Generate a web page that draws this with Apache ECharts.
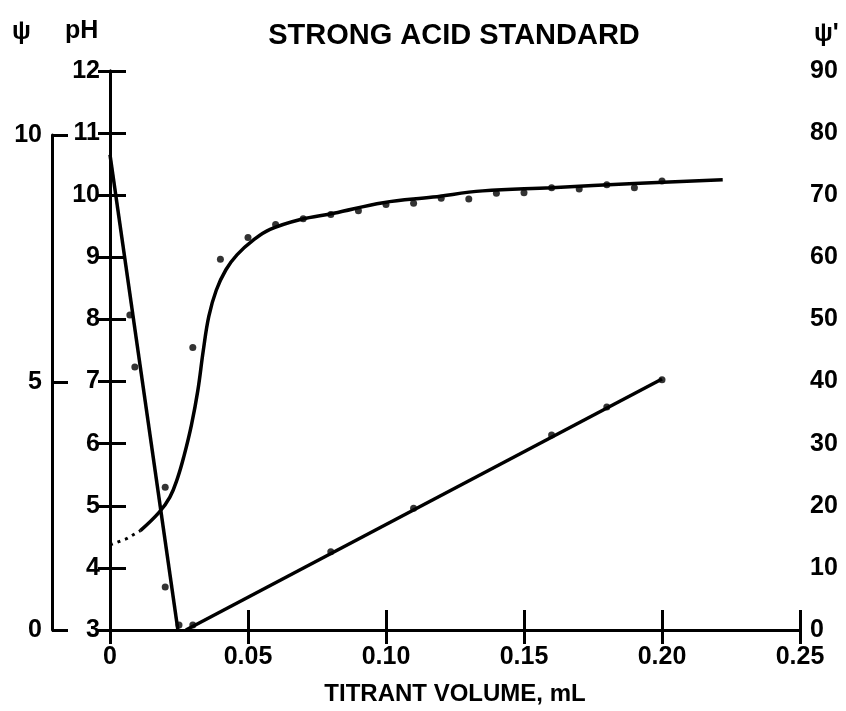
<!DOCTYPE html>
<html><head><meta charset="utf-8">
<script src="https://cdn.jsdelivr.net/npm/echarts@6/dist/echarts.min.js"></script>
<style>html,body{margin:0;padding:0;background:#fff}#c{width:846px;height:711px}</style>
</head><body><div id="c"></div>
<script>
// ---- data ----
const xTicks = [0, 0.05, 0.10, 0.15, 0.20, 0.25];
const xTickLabels = ['0', '0.05', '0.10', '0.15', '0.20', '0.25'];
// pH titration curve (fitted), dotted start then solid
const phCurveDotted = [[0, 4.37], [0.006, 4.47], [0.011, 4.6]];
const phCurve = [[0.011, 4.6], [0.0177, 4.89], [0.0217, 5.14], [0.0245, 5.45], [0.0268, 5.8], [0.0295, 6.3], [0.0318, 6.85], [0.0338, 7.5], [0.0358, 8.05], [0.0385, 8.47], [0.042, 8.8], [0.046, 9.04], [0.052, 9.28], [0.058, 9.45], [0.069, 9.61], [0.081, 9.71], [0.099, 9.88], [0.117, 9.97], [0.135, 10.07], [0.16, 10.12], [0.19, 10.19], [0.222, 10.25]];
// measured pH points
const phPoints = [[0.02, 5.3], [0.03, 7.55], [0.04, 8.97], [0.05, 9.32], [0.06, 9.53], [0.07, 9.62], [0.08, 9.69], [0.09, 9.75], [0.10, 9.85], [0.11, 9.87], [0.12, 9.95], [0.13, 9.94], [0.14, 10.03], [0.15, 10.04], [0.16, 10.12], [0.17, 10.1], [0.18, 10.17], [0.19, 10.12], [0.20, 10.23]];
// Gran function psi (before equivalence)
const psiLine = [[0, 9.6], [0.0246, 0]];
const psiPoints = [[0.0072, 6.36], [0.009, 5.31], [0.02, 0.87], [0.025, 0.1]];
// Gran function psi' (after equivalence)
const psiPrimeLine = [[0.0275, 0], [0.20, 40.4]];
const psiPrimePoints = [[0.03, 0.8], [0.08, 12.6], [0.11, 19.6], [0.16, 31.4], [0.18, 35.9], [0.20, 40.3]];
const psiTicks = [0, 5, 10];

const FONT = '"Liberation Sans", Arial, sans-serif';
const AX = {color: '#000', width: 3};
const lbl = {color: '#000', fontFamily: FONT, fontSize: 25, fontWeight: 'bold'};

const chart = echarts.init(document.getElementById('c'), null, {renderer: 'canvas'});
chart.setOption({
  backgroundColor: '#fff',
  animation: false,
  title: {
    text: 'STRONG ACID STANDARD', left: 449, top: 16, textAlign: 'center',
    textStyle: {color: '#000', fontFamily: FONT, fontSize: 29, fontWeight: 'bold'}
  },
  graphic: [
    {type: 'text', left: 12, top: 20, style: {text: 'ψ', fill: '#000', font: 'bold 25px ' + FONT}},
    {type: 'text', left: 65, top: 19, style: {text: 'pH', fill: '#000', font: 'bold 25px ' + FONT}},
    {type: 'text', left: 814, top: 22, style: {text: "ψ'", fill: '#000', font: 'bold 25px ' + FONT}}
  ],
  grid: [
    {left: 110, right: 46, top: 71, bottom: 81},
    {left: 52, width: 20, top: 135, bottom: 81}
  ],
  xAxis: [
    {type: 'value', gridIndex: 0, min: 0, max: 0.25, interval: 0.05, position: 'bottom',
     axisLine: {lineStyle: AX}, axisTick: {inside: true, length: 20, lineStyle: AX},
     splitLine: {show: false},
     axisLabel: Object.assign({}, lbl, {margin: 15, formatter: v => {
       const i = xTicks.findIndex(t => Math.abs(t - v) < 1e-9); return i >= 0 ? xTickLabels[i] : '';}}),
     name: 'TITRANT VOLUME, mL', nameLocation: 'middle', nameGap: 52,
     nameTextStyle: {color: '#000', fontFamily: FONT, fontSize: 24, fontWeight: 'bold'}},
    {type: 'value', gridIndex: 0, min: 0, max: 0.25, interval: 0.05, position: 'top',
     axisLine: {lineStyle: AX}, axisTick: {inside: true, length: 14, lineStyle: AX},
     axisLabel: {show: false}, splitLine: {show: false}},
    {type: 'value', gridIndex: 1, min: 0, max: 1, show: false}
  ],
  yAxis: [
    {type: 'value', gridIndex: 0, min: 3, max: 12, interval: 1, position: 'left',
     axisLine: {show: true, lineStyle: AX}, axisTick: {show: true, inside: true, length: 16, lineStyle: AX},
     axisLabel: Object.assign({}, lbl, {margin: 10}), splitLine: {show: false}},
    {type: 'value', gridIndex: 0, min: 0, max: 90, interval: 10, position: 'right',
     axisLine: {show: true, lineStyle: AX}, axisTick: {show: true, inside: true, length: 12, lineStyle: AX},
     axisLabel: Object.assign({}, lbl, {margin: 10}), splitLine: {show: false}},
    {type: 'value', gridIndex: 0, min: 0, max: 11.29, show: false},
    {type: 'value', gridIndex: 1, min: 0, max: 10, interval: 5, position: 'left',
     axisLine: {show: true, lineStyle: AX}, axisTick: {show: true, inside: true, length: 16, lineStyle: AX},
     axisLabel: Object.assign({}, lbl, {margin: 10, formatter: v => psiTicks.indexOf(v) >= 0 ? String(v) : ''}),
     splitLine: {show: false}}
  ],
  series: [
    {type: 'line', xAxisIndex: 0, yAxisIndex: 0, data: phCurveDotted, showSymbol: false,
     lineStyle: {color: '#000', width: 3, type: [3, 5]}},
    {type: 'line', xAxisIndex: 0, yAxisIndex: 0, data: phCurve, showSymbol: false, smooth: 0.4,
     lineStyle: {color: '#000', width: 3.5}},
    {type: 'scatter', xAxisIndex: 0, yAxisIndex: 0, data: phPoints, symbolSize: 7,
     itemStyle: {color: '#000'}},
    {type: 'line', xAxisIndex: 0, yAxisIndex: 2, data: psiLine, showSymbol: false,
     lineStyle: {color: '#000', width: 3.5}},
    {type: 'scatter', xAxisIndex: 0, yAxisIndex: 2, data: psiPoints, symbolSize: 7,
     itemStyle: {color: '#000'}},
    {type: 'line', xAxisIndex: 0, yAxisIndex: 1, data: psiPrimeLine, showSymbol: false,
     lineStyle: {color: '#000', width: 3.5}},
    {type: 'scatter', xAxisIndex: 0, yAxisIndex: 1, data: psiPrimePoints, symbolSize: 7,
     itemStyle: {color: '#000'}}
  ]
});
</script></body></html>
